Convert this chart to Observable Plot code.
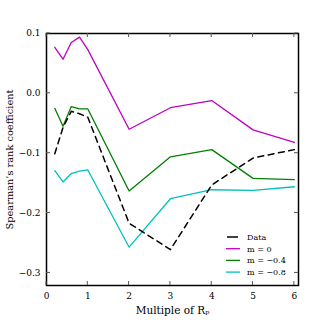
<!DOCTYPE html>
<html><head><meta charset="utf-8">
<script src="https://cdn.jsdelivr.net/npm/d3@7"></script>
<script src="https://cdn.jsdelivr.net/npm/@observablehq/plot@0.6"></script>
<style>
html,body{margin:0;padding:0;background:#fff;}
svg{display:block;}
</style>
</head><body>
<div id="chart"></div>
<script>
const xs = [0.2, 0.4, 0.6, 0.8, 1, 2, 3, 4, 5, 6];
const dataVals = [-0.101, -0.057, -0.030, -0.034, -0.040, -0.217, -0.261, -0.153, -0.108, -0.094];
const m0Vals = [0.077, 0.057, 0.085, 0.094, 0.073, -0.060, -0.024, -0.012, -0.061, -0.082];
const m04Vals = [-0.025, -0.055, -0.022, -0.026, -0.026, -0.163, -0.106, -0.094, -0.142, -0.144];
const m08Vals = [-0.129, -0.148, -0.134, -0.130, -0.128, -0.257, -0.176, -0.161, -0.162, -0.156];
const seriesNames = ["Data", "m = 0", "m = \u22120.4", "m = \u22120.8"];
const seriesColors = ["#000000", "#bf00bf", "#008000", "#00bfbf"];
const xTicks = [0, 1, 2, 3, 4, 5, 6];
const yTicks = [0.1, 0.0, -0.1, -0.2, -0.3];
const xLabel = "Multiple of R\u209A";
const yLabel = "Spearman\u2019s rank coefficient";

const allVals = [dataVals, m0Vals, m04Vals, m08Vals];
const rows = [];
allVals.forEach((vals, si) => vals.forEach((v, i) => rows.push({series: seriesNames[si], x: xs[i], y: v})));

const font = "'DejaVu Serif', serif";
const fmtY = d3.format(".1f");
const fmtX = d3.format("d");

const plot = Plot.plot({
  width: 331, height: 331,
  marginLeft: 46, marginRight: 33, marginTop: 33, marginBottom: 46,
  style: {fontFamily: font, fontSize: "9px", background: "#fff", color: "#000"},
  x: {domain: [0, 6.1], ticks: xTicks, tickSize: 0, tickPadding: 7, tickFormat: d => fmtX(d), label: null},
  y: {domain: [-0.321, 0.1], ticks: yTicks, tickSize: 0, tickPadding: 6, tickFormat: d => fmtY(d), label: null},
  marks: [
    Plot.line(rows.filter(d => d.series !== "Data"), {x: "x", y: "y", z: "series", stroke: d => seriesColors[seriesNames.indexOf(d.series)], strokeWidth: 1.3}),
    Plot.line(rows.filter(d => d.series === "Data"), {x: "x", y: "y", stroke: "#000", strokeWidth: 1.5, strokeDasharray: "6,4.5"}),
    Plot.frame({stroke: "#000", strokeWidth: 1.5}),
    Plot.text([xLabel], {frameAnchor: "bottom", textAnchor: "middle", dy: 28, text: d => d, fontSize: 10.5}),
    Plot.text([yLabel], {frameAnchor: "left", textAnchor: "middle", dx: -37, rotate: -90, text: d => d, fontSize: 9.8})
  ]
});

const svg = d3.select(plot);
const sx = plot.scale("x"), sy = plot.scale("y");
const L = 46, R = 331 - 33, T = 33, B = 331 - 46, tl = 4;
const g = svg.append("g").attr("stroke", "#555").attr("stroke-width", 1);
xTicks.forEach(t => {
  const px = sx.apply(t);
  g.append("line").attr("x1", px).attr("x2", px).attr("y1", B).attr("y2", B - tl);
  g.append("line").attr("x1", px).attr("x2", px).attr("y1", T).attr("y2", T + tl);
});
yTicks.forEach(t => {
  const py = sy.apply(t);
  g.append("line").attr("y1", py).attr("y2", py).attr("x1", L).attr("x2", L + tl);
  g.append("line").attr("y1", py).attr("y2", py).attr("x1", R).attr("x2", R - tl);
});

// legend
const lg = svg.append("g").attr("font-family", font).attr("font-size", "8px").attr("text-anchor", "start");
seriesNames.forEach((name, i) => {
  const yy = 237 + i * 11.7;
  lg.append("line").attr("x1", i === 0 ? 227 : 226).attr("x2", i === 0 ? 238 : 240).attr("y1", yy).attr("y2", yy)
    .attr("stroke", seriesColors[i]).attr("stroke-width", i === 0 ? 1.5 : 1.3);
  lg.append("text").attr("x", 247).attr("y", yy).attr("dy", "0.35em").attr("fill", "#000").attr("stroke", "none").text(name);
});

document.getElementById("chart").appendChild(plot);
</script>
</body></html>
